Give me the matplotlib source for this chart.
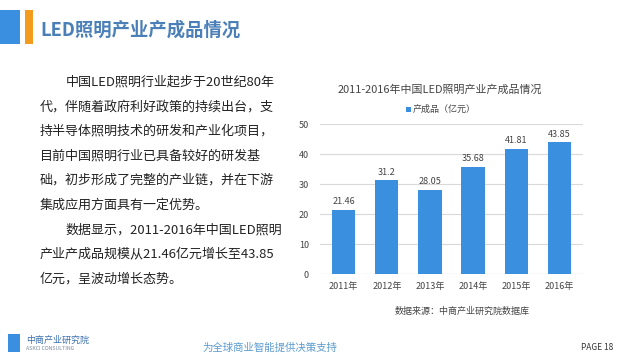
import matplotlib.pyplot as plt
from matplotlib.patches import Rectangle

plt.rcParams['font.family'] = ['Noto Sans CJK SC', 'DejaVu Sans']

years = ['2011年', '2012年', '2013年', '2014年', '2015年', '2016年']
output = [21.46, 31.2, 28.05, 35.68, 41.81, 43.85]
value_labels = ['21.46', '31.2', '28.05', '35.68', '41.81', '43.85']
yticks = [0, 10, 20, 30, 40, 50]

body_lines = [
    '中国LED照明行业起步于20世纪80年',
    '代，伴随着政府利好政策的持续出台，支',
    '持半导体照明技术的研发和产业化项目，',
    '目前中国照明行业已具备较好的研发基',
    '础，初步形成了完整的产业链，并在下游',
    '集成应用方面具有一定优势。',
    '数据显示，2011-2016年中国LED照明',
    '产业产成品规模从21.46亿元增长至43.85',
    '亿元，呈波动增长态势。',
]
indented = [0, 6]

W, H = 625, 360
fig = plt.figure(figsize=(6.25, 3.6), dpi=100)
fig.patch.set_facecolor('white')


def px(x, y):
    return x / W, 1 - y / H


# header decoration
fig.patches.append(Rectangle(px(0, 44), 20 / W, 34 / H, transform=fig.transFigure,
                             facecolor='#3b8fe0', edgecolor='none'))
fig.patches.append(Rectangle(px(25, 44), 8 / W, 34 / H, transform=fig.transFigure,
                             facecolor='#f29b1d', edgecolor='none'))
fig.text(*px(40, 30), 'LED照明产业产成品情况', fontsize=13.2, color='#4a7fb8',
         ha='left', va='center', fontweight='bold')

# body text
for i, line in enumerate(body_lines):
    x0 = 66 if i in indented else 40
    fig.text(*px(x0, 82 + i * 24.6), line, fontsize=9.4, color='#222222',
             ha='left', va='center')

# chart
ax = fig.add_axes([320 / W, 1 - 274 / H, 263 / W, 150 / H])
x = range(len(years))
ax.bar(x, output, width=0.54, color='#3a8fdf', zorder=3, label='产成品（亿元）')
for xi, v, lab in zip(x, output, value_labels):
    ax.text(xi, v + 1.2, lab, ha='center', va='bottom', fontsize=6.5, color='#444444')
ax.set_xlim(-0.55, 5.55)
ax.set_ylim(0, 50)
ax.set_yticks(yticks)
ax.set_xticks(list(x))
ax.set_xticklabels(years)
ax.tick_params(axis='both', length=0, labelsize=6.5, colors='#444444')
ax.tick_params(axis='x', pad=6)
ax.tick_params(axis='y', pad=8)
ax.grid(axis='y', color='#d9d9d9', linewidth=0.8, zorder=0)
ax.set_axisbelow(True)
for s in ax.spines.values():
    s.set_visible(False)
ax.axhline(0, color='#d0d0d0', linewidth=0.8, zorder=2)

fig.text(*px(440, 90), '2011-2016年中国LED照明产业产成品情况', fontsize=7.9,
         color='#444444', ha='center', va='center')
fig.patches.append(Rectangle(px(406, 112), 5 / W, 5 / H, transform=fig.transFigure,
                             facecolor='#3a8fdf', edgecolor='none'))
fig.text(*px(413, 109), '产成品（亿元）', fontsize=6.5, color='#444444',
         ha='left', va='center')
fig.text(*px(462, 311), '数据来源：中商产业研究院数据库', fontsize=6.5,
         color='#444444', ha='center', va='center')

# footer
fig.text(*px(26, 340), '中商产业研究院', fontsize=6.5, color='#3b6fb0',
         ha='left', va='center')
fig.text(*px(26, 349), 'ASKCI CONSULTING', fontsize=3.8, color='#7a8aa0',
         ha='left', va='center')
fig.patches.append(Rectangle(px(8, 352), 12 / W, 18 / H, transform=fig.transFigure,
                             facecolor='#3b8fe0', edgecolor='none'))
fig.text(*px(270, 348), '为全球商业智能提供决策支持', fontsize=7.5, color='#5a9bd0',
         ha='center', va='center', style='italic')
fig.text(*px(597, 347), 'PAGE 18', fontsize=6, color='#333333',
         ha='center', va='center')

fig.savefig('out.png', dpi=100)
